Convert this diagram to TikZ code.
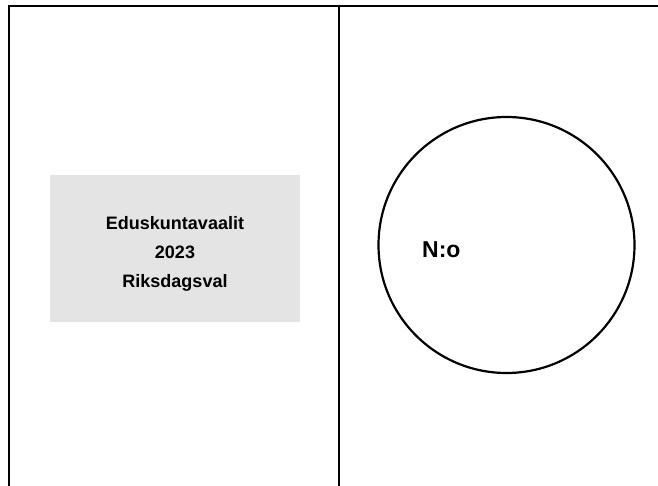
\documentclass[tikz,border=0pt]{standalone}
\usepackage{fontspec}
\setmainfont{Liberation Sans}
\usetikzlibrary{positioning}
\definecolor{boxgrey}{HTML}{E4E4E4}

\begin{document}
\begin{tikzpicture}[
   x=1pt, y=-1pt,
   frameline/.style={line width=2pt, line cap=rect},
   titlebox/.style={fill=boxgrey, minimum width=250pt, minimum height=147pt},
   titletext/.style={align=center, inner sep=0pt, font=\fontsize{18}{29}\selectfont\bfseries},
   numbercircle/.style={draw, circle, line width=2.2pt, minimum size=256pt, inner sep=0pt},
   lab/.style={font=\fontsize{23}{26}\selectfont\bfseries, inner sep=0pt}]
  \useasboundingbox (0,0) rectangle (658,486);
  % frame of the sheet
  \coordinate (topleft) at (9,6);
  \coordinate (topright) at (660,6);
  \coordinate (bottomleft) at (9,488);
  \coordinate (midtop) at (339,6);
  \coordinate (midbottom) at (339,488);
  \draw[frameline] (bottomleft) -- (topleft) -- (topright);
  \draw[frameline] (midtop) -- (midbottom);
  % left half
  \node[titlebox] (title) at (175,248.5) {};
  \node[titletext, below=5pt of title.center, anchor=center] (titlewords)
     {Eduskuntavaalit\\2023\\Riksdagsval};
  % right half
  \node[numbercircle] (ring) at (506.5,245) {};
  \node[lab, anchor=west] (number) at (422,250) {N:o};
\end{tikzpicture}
\end{document}
